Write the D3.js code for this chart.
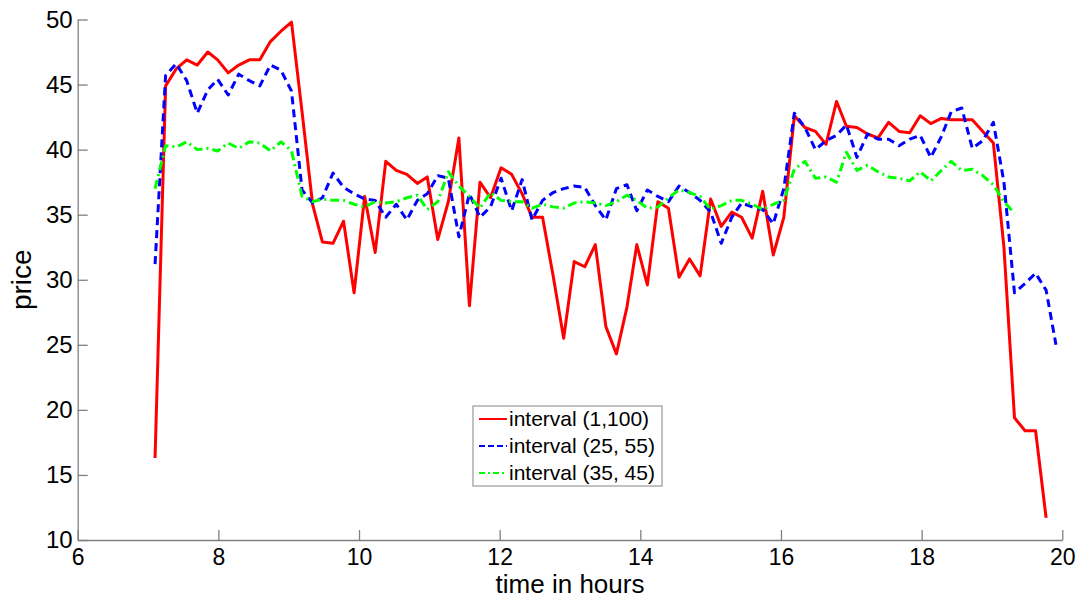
<!DOCTYPE html>
<html>
<head>
<meta charset="utf-8">
<script src="https://cdn.jsdelivr.net/npm/d3@7"></script>
<style>
  body { margin: 0; background: #fff; }
  svg { font-family: "Liberation Sans", Arial, sans-serif; }
</style>
</head>
<body>
<svg id="chart" width="1083" height="600"></svg>
<script>
// sample times (hours), shared by all three series
var times = [7.10, 7.25, 7.40, 7.55, 7.70, 7.85, 7.99, 8.14, 8.29, 8.44,
             8.59, 8.74, 8.89, 9.04, 9.19, 9.34, 9.48, 9.63, 9.78, 9.93,
             10.08, 10.23, 10.38, 10.53, 10.68, 10.83, 10.97, 11.12, 11.27, 11.42,
             11.57, 11.72, 11.87, 12.02, 12.17, 12.32, 12.46, 12.61, 12.76, 12.91,
             13.06, 13.21, 13.36, 13.51, 13.66, 13.81, 13.95, 14.10, 14.25, 14.40,
             14.55, 14.70, 14.85, 15.00, 15.15, 15.30, 15.44, 15.59, 15.74, 15.89,
             16.04, 16.19, 16.34, 16.49, 16.64, 16.79, 16.93, 17.08, 17.23, 17.38,
             17.53, 17.68, 17.83, 17.98, 18.13, 18.28, 18.42, 18.57, 18.72, 18.87,
             19.02, 19.17, 19.32, 19.47, 19.62, 19.77, 19.91];

var price1to100 = [16.3, 44.9, 46.2, 46.9, 46.5, 47.5, 46.9, 45.9, 46.5, 46.9,
                   46.9, 48.3, 49.1, 49.8, 42.9, 35.8, 32.9, 32.8, 34.5, 29.0,
                   36.4, 32.1, 39.1, 38.4, 38.1, 37.4, 37.9, 33.1, 36.0, 40.9,
                   28.0, 37.5, 36.3, 38.6, 38.1, 36.6, 34.8, 34.8, 30.3, 25.5,
                   31.4, 31.0, 32.7, 26.4, 24.3, 27.9, 32.7, 29.6, 36.0, 35.5,
                   30.2, 31.6, 30.3, 36.2, 34.1, 35.2, 34.8, 33.2, 36.8, 31.9,
                   34.8, 42.6, 41.7, 41.4, 40.4, 43.7, 41.8, 41.7, 41.2, 40.9,
                   42.1, 41.4, 41.3, 42.6, 42.0, 42.4, 42.3, 42.3, 42.3, 41.4,
                   40.5, 32.5, 19.4, 18.4, 18.4, 11.7, null];

var price25to55 = [31.2, 45.7, 46.6, 45.3, 42.8, 44.6, 45.4, 44.2, 45.8, 45.3,
                   44.9, 46.5, 46.1, 44.5, 36.9, 35.9, 36.3, 38.2, 37.1, 36.6,
                   36.2, 36.1, 34.8, 35.8, 34.6, 36.1, 36.6, 38.0, 37.8, 33.3,
                   36.6, 34.8, 35.6, 37.8, 35.3, 37.7, 34.6, 36.1, 36.7, 37.0,
                   37.2, 37.1, 35.7, 34.6, 37.0, 37.3, 35.3, 36.9, 36.4, 36.0,
                   37.2, 36.7, 36.1, 35.2, 32.8, 34.8, 35.9, 35.6, 35.4, 34.3,
                   37.0, 42.8, 41.7, 40.0, 40.7, 41.1, 41.9, 39.4, 41.2, 40.8,
                   40.8, 40.3, 40.8, 41.1, 39.4, 41.0, 42.9, 43.2, 40.1, 40.7,
                   42.1, 37.5, 29.0, 29.7, 30.5, 29.2, 25.0];

var price35to45 = [37.0, 40.3, 40.2, 40.6, 40.0, 40.1, 39.9, 40.5, 40.1, 40.6,
                   40.5, 39.9, 40.6, 39.9, 36.4, 36.0, 36.2, 36.1, 36.1, 35.8,
                   35.6, 36.0, 35.9, 36.0, 36.3, 36.5, 35.4, 36.0, 38.3, 37.2,
                   36.4, 35.5, 36.7, 36.1, 36.0, 36.0, 35.5, 35.8, 35.6, 35.5,
                   35.9, 36.0, 35.9, 35.7, 36.0, 36.5, 36.1, 35.5, 35.6, 36.3,
                   36.9, 36.7, 36.4, 35.4, 35.7, 36.1, 36.1, 35.8, 35.4, 35.8,
                   36.1, 38.5, 39.1, 37.8, 37.9, 37.5, 39.8, 38.4, 38.8, 38.3,
                   37.9, 37.8, 37.6, 38.3, 37.6, 38.4, 39.1, 38.4, 38.5, 38.0,
                   37.3, 36.0, 35.1, null, null, null, null];

var seriesNames = ["interval (1,100)", "interval (25, 55)", "interval (35, 45)"];
var xTicks = [6, 8, 10, 12, 14, 16, 18, 20];
var yTicks = [10, 15, 20, 25, 30, 35, 40, 45, 50];

var series = [
  { name: seriesNames[0], values: price1to100, color: "#ff0000", dash: null, legendDash: null },
  { name: seriesNames[1], values: price25to55, color: "#0000ff", dash: "8,5", legendDash: "6,3" },
  { name: seriesNames[2], values: price35to45, color: "#00ff00", dash: "9,4,2,4", legendDash: "6,3,2,3" }
];

var svg = d3.select("#chart");
var x = d3.scaleLinear().domain([6, 20]).range([77.7, 1062.3]);
var y = d3.scaleLinear().domain([10, 50]).range([540, 19.5]);
var axisColor = "#808080";

// axes (MATLAB style: ticks pointing inward, box off)
var gx = svg.append("g")
  .attr("transform", "translate(0," + y(10) + ")")
  .call(d3.axisBottom(x).tickValues(xTicks).tickSizeInner(-10).tickSizeOuter(0).tickPadding(9));
var gy = svg.append("g")
  .attr("transform", "translate(" + x(6) + ",0)")
  .call(d3.axisLeft(y).tickValues(yTicks).tickSizeInner(-10).tickSizeOuter(0).tickPadding(5));

[gx, gy].forEach(function (g) {
  g.select(".domain").attr("stroke", axisColor).attr("stroke-width", 1.3);
  g.selectAll(".tick line").attr("stroke", axisColor).attr("stroke-width", 1.3);
  g.selectAll(".tick text").attr("fill", "#000").attr("font-size", 24)
    .attr("font-family", "'Liberation Sans', Arial, sans-serif");
});
gx.selectAll(".tick text").attr("font-size", 23);

// axis labels
svg.append("text")
  .attr("x", (x(6) + x(20)) / 2).attr("y", 593)
  .attr("text-anchor", "middle").attr("font-size", 26)
  .text("time in hours");
svg.append("text")
  .attr("transform", "translate(31," + (y(10) + y(50)) / 2 + ") rotate(-90)")
  .attr("text-anchor", "middle").attr("font-size", 28)
  .text("price");

// lines
var line = d3.line()
  .defined(function (d) { return d.v != null; })
  .x(function (d) { return x(d.t); })
  .y(function (d) { return y(d.v); });

series.forEach(function (s) {
  var pts = times.map(function (t, i) { return { t: t, v: s.values[i] }; });
  svg.append("path")
    .datum(pts)
    .attr("fill", "none")
    .attr("stroke", s.color)
    .attr("stroke-width", 3)
    .attr("stroke-linejoin", "round")
    .attr("stroke-dasharray", s.dash)
    .attr("d", line);
});

// legend
var legend = svg.append("g").attr("transform", "translate(473,406)");
legend.append("rect")
  .attr("width", 189).attr("height", 80)
  .attr("fill", "#fff").attr("stroke", "#999").attr("stroke-width", 1.2);

var rows = legend.selectAll("g.row").data(series).enter().append("g")
  .attr("class", "row")
  .attr("transform", function (d, i) { return "translate(0," + (13 + i * 27) + ")"; });
rows.append("line")
  .attr("x1", 6).attr("x2", 34).attr("y1", 0).attr("y2", 0)
  .attr("stroke", function (d) { return d.color; })
  .attr("stroke-width", 2)
  .attr("stroke-dasharray", function (d) { return d.legendDash; });
rows.append("text")
  .attr("x", 36).attr("y", 7)
  .attr("font-size", 21)
  .text(function (d) { return d.name; });
</script>
</body>
</html>
